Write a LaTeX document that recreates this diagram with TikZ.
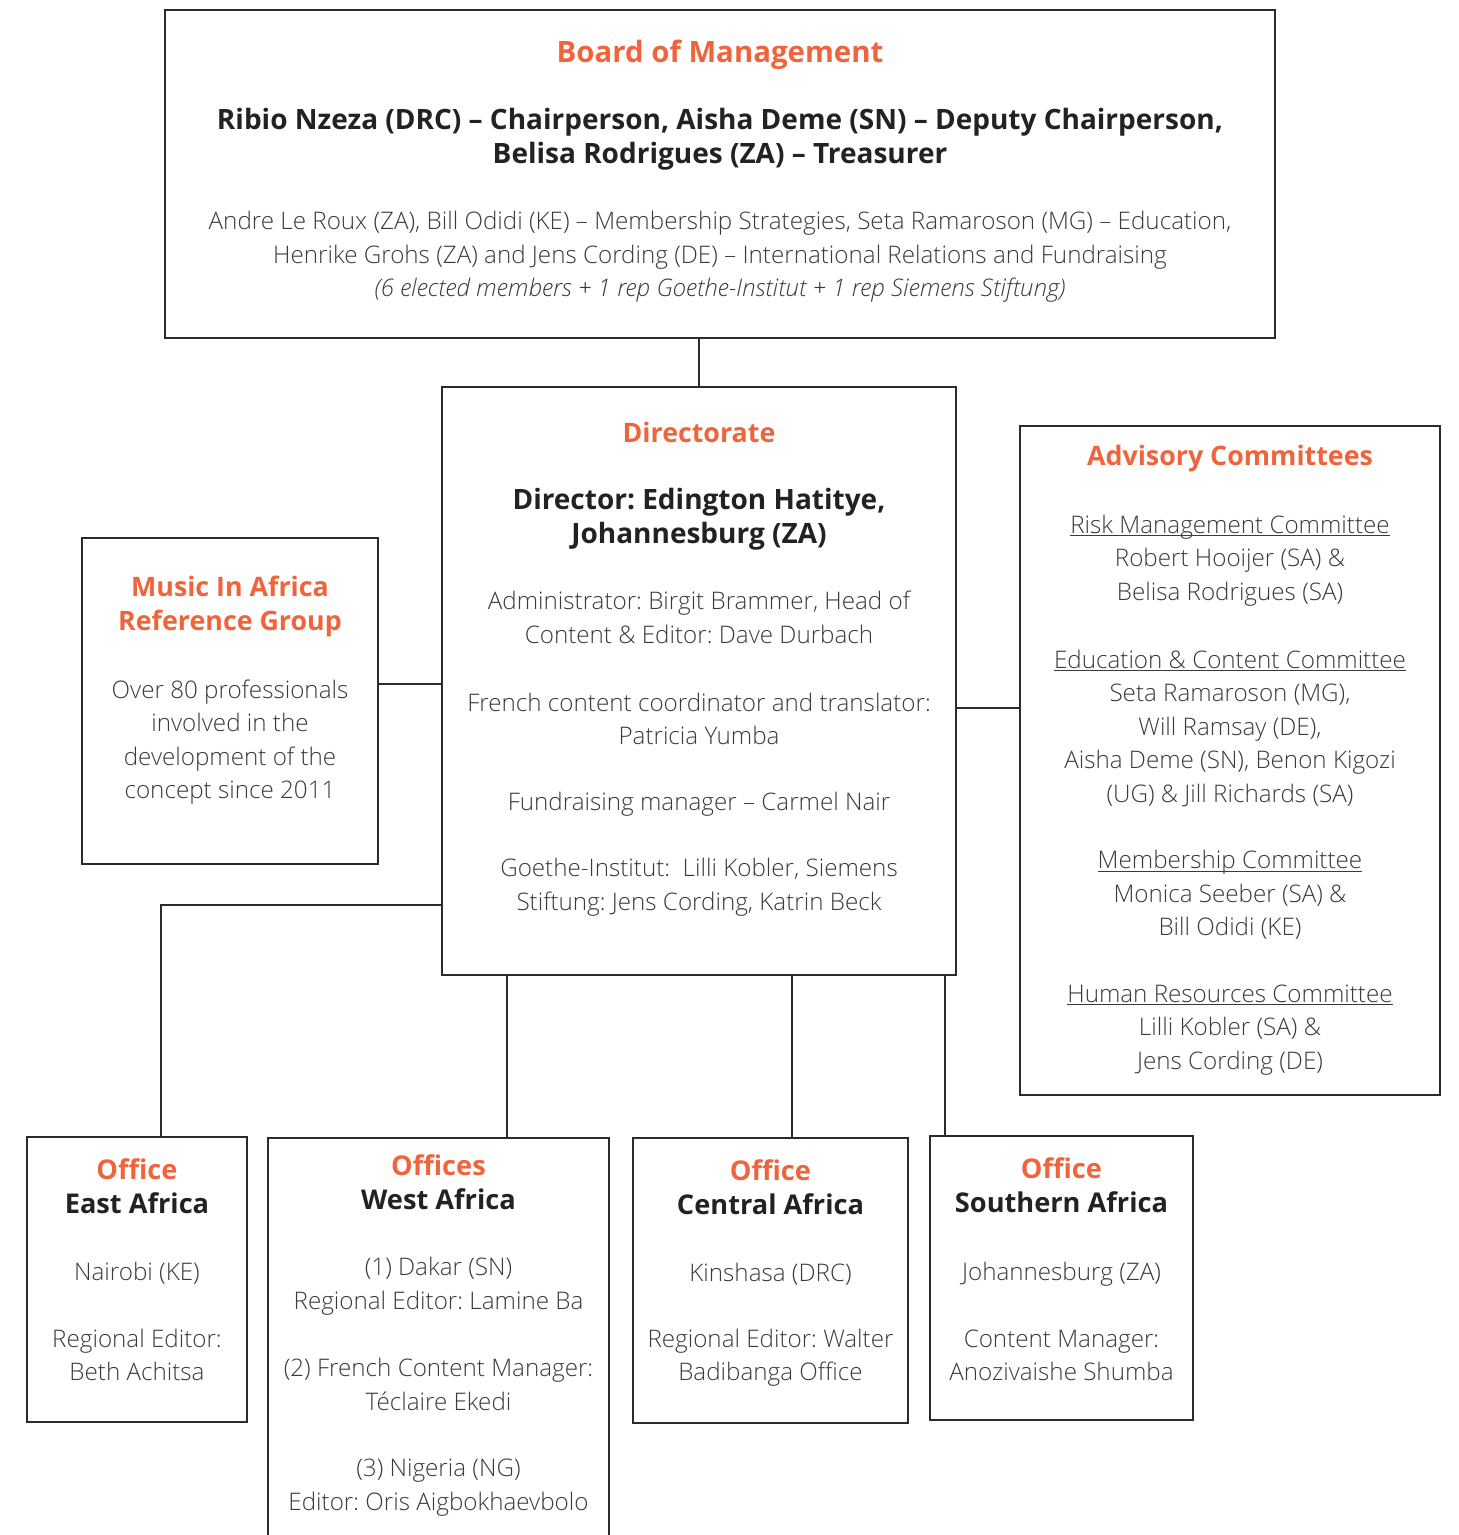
\documentclass[tikz,border=0pt]{standalone}
\usepackage{fontspec}
\setmainfont{Open Sans}[UprightFont={* Light},ItalicFont={* Light Italic},BoldFont={* Bold}]
\frenchspacing
\definecolor{accent}{HTML}{F0643C}
\definecolor{inkc}{HTML}{222222}
\definecolor{bodyc}{HTML}{3A3A3A}
\definecolor{linec}{HTML}{2B2B2B}
\newcommand\myul[1]{\setbox0\hbox{#1}\rlap{\color{bodyc}\rule[-3pt]{\wd0}{1.2pt}}\box0}
\tikzset{
  box/.style={draw=linec, line width=2.6pt, rectangle, inner sep=0pt},
  conn/.style={draw=linec, line width=2.6pt},
  headtxt/.style={font=\bfseries\fontsize{26.8}{34}\selectfont, text=accent, align=center, inner sep=0pt},
  boldtxt/.style={font=\bfseries\fontsize{28}{34}\selectfont, text=inkc, align=center, inner sep=0pt},
  officetxt/.style={font=\bfseries\fontsize{27.2}{34}\selectfont, text=inkc, align=center, inner sep=0pt},
  bodytxt/.style={font=\fontsize{24.2}{33.5}\selectfont, text=bodyc, align=center, inner sep=0pt},
}
\begin{document}
\begin{tikzpicture}[x=1pt,y=-1pt]
\useasboundingbox (0,0) rectangle (1459,1535);
\clip (0,0) rectangle (1459,1535);
% boxes
\node[box, minimum width=1110pt, minimum height=328pt] (board) at (720,174) {};
\node[box, minimum width=514pt, minimum height=588pt] (dir) at (699,681) {};
\node[box, minimum width=296pt, minimum height=326pt] (ref) at (230,701) {};
\node[box, minimum width=420pt, minimum height=669pt] (adv) at (1230,760.5) {};
\node[box, minimum width=220pt, minimum height=285pt] (east) at (137,1279.5) {};
\node[box, minimum width=341pt, minimum height=422pt] (west) at (438.5,1349) {};
\node[box, minimum width=275pt, minimum height=285pt] (central) at (770.5,1280.5) {};
\node[box, minimum width=263pt, minimum height=284pt] (south) at (1061.5,1278) {};
% connectors
\draw[conn] (board.south -| dir.north) -- (dir.north);
\draw[conn] ([yshift=17pt]ref.east) coordinate (ra) -- (ra -| dir.west);
\draw[conn] ([yshift=-27pt]dir.east) coordinate (da) -- (da -| adv.west);
\draw[conn] ([yshift=-224pt]dir.west) coordinate (de) -- ([xshift=24pt]east.north |- de) -- ([xshift=24pt]east.north);
\draw[conn] ([xshift=68.5pt]west.north) coordinate (wn) -- (wn |- dir.south);
\draw[conn] ([xshift=21.5pt]central.north) coordinate (cn) -- (cn |- dir.south);
\draw[conn] ([xshift=-116.5pt]south.north) coordinate (sn) -- (sn |- dir.south);
% board text
\node[headtxt, font=\bfseries\fontsize{29.4}{34}\selectfont] (boardh) at (720,55) {Board of Management};
\node[boldtxt] (boardb) at (720,139) {Ribio Nzeza (DRC) – Chairperson, Aisha Deme (SN) – Deputy Chairperson,\\Belisa Rodrigues (ZA) – Treasurer};
\node[bodytxt] (boardt) at (720,257) {Andre Le Roux (ZA), Bill Odidi (KE) – Membership Strategies, Seta Ramaroson (MG) – Education,\\Henrike Grohs (ZA) and Jens Cording (DE) – International Relations and Fundraising\\\itshape (6 elected members + 1 rep Goethe-Institut + 1 rep Siemens Stiftung)};
% directorate text
\node[headtxt] (dirh) at (699,432) {Directorate};
\node[boldtxt] (dirb) at (699,519) {Director: Edington Hatitye,\\Johannesburg (ZA)};
\node[bodytxt] (dir1) at (699,617.5) {Administrator: Birgit Brammer, Head of\\Content \& Editor: Dave Durbach};
\node[bodytxt] (dir2) at (699,719) {French content coordinator and translator:\\Patricia Yumba};
\node[bodytxt] (dir3) at (699,804) {Fundraising manager – Carmel Nair};
\node[bodytxt] (dir4) at (699,887) {Goethe-Institut:\ \ Lilli Kobler, Siemens\\Stiftung: Jens Cording, Katrin Beck};
% reference group
\node[headtxt] (refh) at (230,606.5) {Music In Africa\\Reference Group};
\node[bodytxt] (reft) at (230,742) {Over 80 professionals\\involved in the\\development of the\\concept since 2011};
% advisory
\node[headtxt] (advh) at (1230,459) {Advisory Committees};
\node[bodytxt] (adv1) at (1230,560.5) {\myul{Risk Management Committee}\\Robert Hooijer (SA) \&\\Belisa Rodrigues (SA)};
\node[bodytxt] (adv2) at (1230,728) {\myul{Education \& Content Committee}\\Seta Ramaroson (MG),\\Will Ramsay (DE),\\Aisha Deme (SN), Benon Kigozi\\(UG) \& Jill Richards (SA)};
\node[bodytxt] (adv3) at (1230,895) {\myul{Membership Committee}\\Monica Seeber (SA) \&\\Bill Odidi (KE)};
\node[bodytxt] (adv4) at (1230,1030) {\myul{Human Resources Committee}\\Lilli Kobler (SA) \&\\Jens Cording (DE)};
% offices
\node[officetxt] (easth) at (137,1186) {\textcolor{accent}{Office}\\East Africa};
\node[bodytxt] (east1) at (137,1273) {Nairobi (KE)};
\node[bodytxt] (east2) at (137,1355) {Regional Editor:\\Beth Achitsa};
\node[officetxt] (westh) at (438.5,1182.5) {\textcolor{accent}{Offices}\\West Africa};
\node[bodytxt] (west1) at (438.5,1286) {(1) Dakar (SN)\\Regional Editor: Lamine Ba};
\node[bodytxt] (west2) at (438.5,1384.5) {(2) French Content Manager:\\Téclaire Ekedi};
\node[bodytxt] (west3) at (438.5,1487.5) {(3) Nigeria (NG)\\Editor: Oris Aigbokhaevbolo};
\node[officetxt] (centralh) at (770.5,1187) {\textcolor{accent}{Office}\\Central Africa};
\node[bodytxt] (central1) at (770.5,1274) {Kinshasa (DRC)};
\node[bodytxt] (central2) at (770.5,1357.5) {Regional Editor: Walter\\Badibanga Office};
\node[officetxt] (southh) at (1061.5,1185) {\textcolor{accent}{Office}\\Southern Africa};
\node[bodytxt] (south1) at (1061.5,1274) {Johannesburg (ZA)};
\node[bodytxt] (south2) at (1061.5,1355.5) {Content Manager:\\Anozivaishe Shumba};
\end{tikzpicture}
\end{document}
